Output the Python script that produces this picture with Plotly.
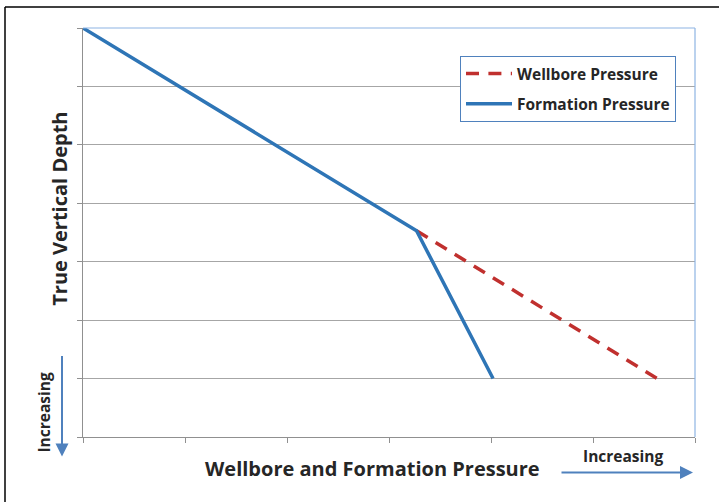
import plotly.graph_objects as go

# Data (pressure in arbitrary units, depth in arbitrary units, depth increases downward)
formation_pressure = [0, 3.27, 4.02]
formation_depth = [0, 3.47, 6]
wellbore_pressure = [3.27, 5.63]
wellbore_depth = [3.47, 6]

W, H = 719, 502
L, R, T, B = 83, 24, 28, 64.5
pw, ph = W - L - R, H - T - B

def px(x):
    return (x - L) / pw

def py(y):
    return (H - B - y) / ph

FONT = "Open Sans"
TXT = "#262626"

fig = go.Figure()
fig.add_trace(go.Scatter(x=wellbore_pressure, y=wellbore_depth, mode="lines",
                         name="Wellbore Pressure", legendgroup="w",
                         line=dict(color="#C0302E", width=3.5, dash="13px,9.4px")))
fig.add_trace(go.Scatter(x=formation_pressure, y=formation_depth, mode="lines",
                         name="Formation Pressure", legendgroup="f",
                         line=dict(color="#2E75B6", width=3.5)))

fig.update_layout(
    width=W, height=H,
    margin=dict(l=L, r=R, t=T, b=B),
    paper_bgcolor="white", plot_bgcolor="white",
    font=dict(family=FONT, color=TXT),
    showlegend=True,
    legend=dict(x=px(460), y=py(56), xanchor="left", yanchor="top",
                bordercolor="#4F81BD", borderwidth=1, bgcolor="white",
                font=dict(family=FONT, size=15.5, color=TXT, weight="bold"),
                traceorder="grouped", tracegroupgap=7, itemwidth=46),
    xaxis=dict(range=[0, 6], dtick=1, showticklabels=False, showgrid=False,
               zeroline=False, showline=True, linecolor="#909090", linewidth=1,
               ticks="outside", ticklen=5, tickcolor="#909090"),
    yaxis=dict(range=[7, 0], dtick=1, showticklabels=False, showgrid=True,
               gridcolor="#A6A6A6", gridwidth=1, zeroline=False, showline=True,
               linecolor="#909090", linewidth=1, ticks="outside", ticklen=5,
               tickcolor="#909090"),
)

shapes = [
    # top and right plot border (light blue)
    dict(type="line", xref="paper", yref="paper", x0=0, x1=1, y0=1, y1=1,
         line=dict(color="#8EB4E3", width=1.2)),
    dict(type="line", xref="paper", yref="paper", x0=1, x1=1, y0=0, y1=1,
         line=dict(color="#8EB4E3", width=1.2)),
    # outer frame (top and left)
    dict(type="line", xref="paper", yref="paper", x0=px(5), x1=px(725), y0=py(7), y1=py(7),
         line=dict(color="black", width=1.5)),
    dict(type="line", xref="paper", yref="paper", x0=px(5), x1=px(5), y0=py(7), y1=py(510),
         line=dict(color="black", width=1.5)),
]
fig.update_layout(shapes=shapes)

def label(text, x, y, size, angle=0):
    fig.add_annotation(text=text, xref="paper", yref="paper", x=px(x), y=py(y),
                       xanchor="center", yanchor="middle", showarrow=False,
                       textangle=angle,
                       font=dict(family=FONT, size=size, color=TXT, weight="bold"))

label("True Vertical Depth", 60, 209, 20, -90)
label("Wellbore and Formation Pressure", 372, 469, 20)
label("Increasing", 44, 413, 15.5, -90)
label("Increasing", 623, 457, 15.5)

# arrows
fig.add_annotation(text="", xref="paper", yref="paper", x=px(62), y=py(457),
                   ax=0, ay=-102, showarrow=True, arrowhead=2, arrowsize=1.3,
                   arrowwidth=2, arrowcolor="#4F81BD")
fig.add_annotation(text="", xref="paper", yref="paper", x=px(693), y=py(473),
                   ax=-133, ay=0, showarrow=True, arrowhead=2, arrowsize=1.3,
                   arrowwidth=2, arrowcolor="#4F81BD")

fig.write_html("out.html", config={"displayModeBar": False},
               post_script="document.body.style.margin='0';")
